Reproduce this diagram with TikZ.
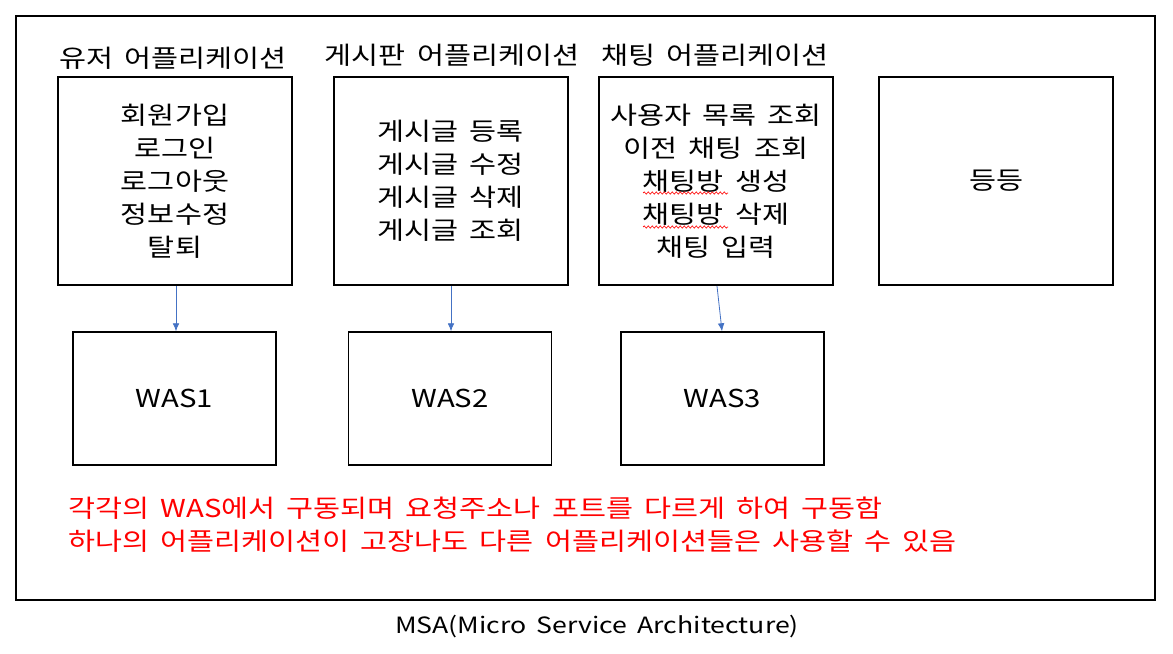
\documentclass[tikz,border=0pt]{standalone}
\usepackage{fontspec}
\setmainfont{Noto Sans CJK KR}[FakeStretch=1.19,WordSpace=1.7]
\usetikzlibrary{decorations.pathmorphing,arrows.meta}
\definecolor{arrowblue}{HTML}{4472C4}
\begin{document}
\begin{tikzpicture}[x=0.75pt,y=-0.75pt,
  frame/.style={draw=black,line width=1.5pt},
  appbox/.style={draw=black,line width=1.5pt,minimum width=234*0.75pt,minimum height=208*0.75pt,inner sep=0pt,align=center,font=\fontsize{18.5pt}{24.8pt}\selectfont},
  wasbox/.style={draw=black,line width=1.1pt,minimum width=203*0.75pt,minimum height=133*0.75pt,inner sep=0pt,font=\fontsize{18.5pt}{24pt}\selectfont},
  title/.style={font=\fontsize{18.5pt}{24pt}\selectfont,inner sep=0pt},
  flow/.style={draw=arrowblue,line width=0.6pt,-{Latex[length=6pt,width=5pt]}},
  note/.style={text=red,font=\fontsize{18.5pt}{24pt}\selectfont,inner sep=0pt,anchor=west},
  squig/.style={draw=red,line width=0.5pt,decorate,decoration={snake,amplitude=0.8pt,segment length=3pt}}
]
\useasboundingbox (0,0) rectangle (1173,653);
\draw[frame] (16,16) rectangle (1155,600);

\node[title] (t1) at (173,58) {유저 어플리케이션};
\node[title] (t2) at (452,55) {게시판 어플리케이션};
\node[title] (t3) at (715,55) {채팅 어플리케이션};

\node[appbox] (a1) at (175,181) {회원가입\\로그인\\로그아웃\\정보수정\\탈퇴};
\node[appbox] (a2) at (450.5,181) {게시글 등록\\게시글 수정\\게시글 삭제\\게시글 조회};
\node[appbox] (a3) at (716,181) {사용자 목록 조회\\이전 채팅 조회\\채팅방 생성\\채팅방 삭제\\채팅 입력};
\node[appbox] (a4) at (996,181) {등등};

\node[wasbox] (w1) at (174.5,398.5) {WAS1};
\node[wasbox] (w2) at (450,398.5) {WAS2};
\node[wasbox] (w3) at (722.5,398.5) {WAS3};

\draw[flow] (a1.south -| 176,0) -- (w1.north -| 176,0);
\draw[flow] (a2.south -| 451,0) -- (w2.north -| 451,0);
\draw[flow] (a3.south -| 717,0) -- (w3.north -| 722,0);

\coordinate (s1a) at (643,193);
\coordinate (s1b) at (728,193);
\coordinate (s2a) at (643,227);
\coordinate (s2b) at (728,227);
\draw[squig] (s1a) -- (s1b);
\draw[squig] (s2a) -- (s2b);

\node[note] (n1) at (68,508) {각각의 WAS에서 구동되며 요청주소나 포트를 다르게 하여 구동함};
\node[note] (n2) at (68,541) {하나의 어플리케이션이 고장나도 다른 어플리케이션들은 사용할 수 있음};

\node[title,font=\fontsize{16.8pt}{22pt}\selectfont] (cap) at (597,627) {MSA(Micro Service Architecture)};
\end{tikzpicture}
\end{document}
